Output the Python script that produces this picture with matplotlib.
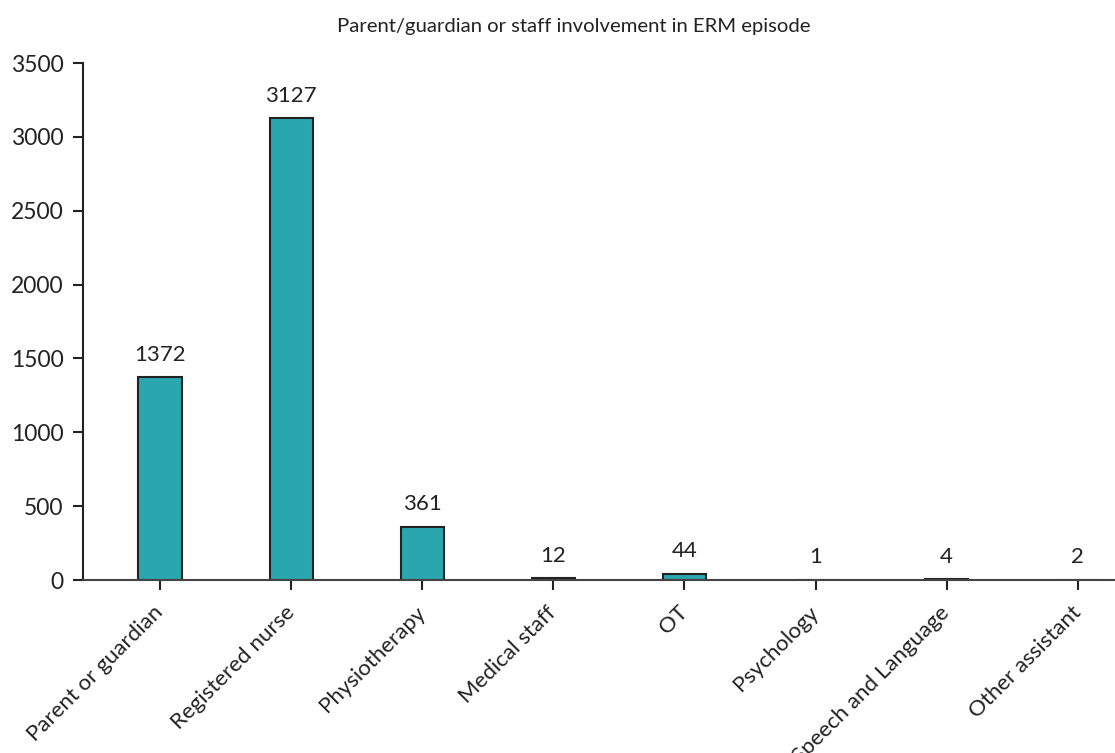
import matplotlib
matplotlib.use('Agg')
import matplotlib.pyplot as plt

# data
categories = ['Parent or guardian', 'Registered nurse', 'Physiotherapy', 'Medical staff',
              'OT', 'Psychology', 'Speech and Language', 'Other assistant']
counts = [1372, 3127, 361, 12, 44, 1, 4, 2]
yticks = [0, 500, 1000, 1500, 2000, 2500, 3000, 3500]

plt.rcParams['font.family'] = ['Lato', 'DejaVu Sans']
plt.rcParams['text.color'] = '#222222'

fig = plt.figure(figsize=(11.15, 7.53), dpi=100)
ax = fig.add_axes([0.0744, 0.2297, 0.928, 0.6866])

x = list(range(len(categories)))
ax.bar(x, counts, width=0.33, color='#2aa7ae', edgecolor='#222222', linewidth=1.5, zorder=2)

for xi, v in zip(x, counts):
    ax.annotate(str(v), (xi, v), xytext=(0, 9), textcoords='offset points',
                ha='center', va='bottom', fontsize=16)

ax.set_xlim(-0.588, 7.305)
ax.set_ylim(0, 3500)
ax.set_yticks(yticks)
ax.set_xticks(x)
ax.set_xticklabels(categories, rotation=45, ha='right', va='center',
                   rotation_mode='anchor', fontsize=16)
ax.tick_params(axis='y', labelsize=16.5, length=7, width=1.5, pad=7,
               color='#222222', labelcolor='#222222')
ax.tick_params(axis='x', length=7, width=1.5, color='#222222', labelcolor='#222222', pad=14)

for s in ['top', 'right']:
    ax.spines[s].set_visible(False)
ax.spines['left'].set_linewidth(1.5)
ax.spines['left'].set_color('#222222')
ax.spines['bottom'].set_linewidth(1.5)
ax.spines['bottom'].set_color('#444444')

fig.text(0.515, 0.965, 'Parent/guardian or staff involvement in ERM episode',
         ha='center', va='center', fontsize=14.6)

fig.savefig('out.png', dpi=100)
